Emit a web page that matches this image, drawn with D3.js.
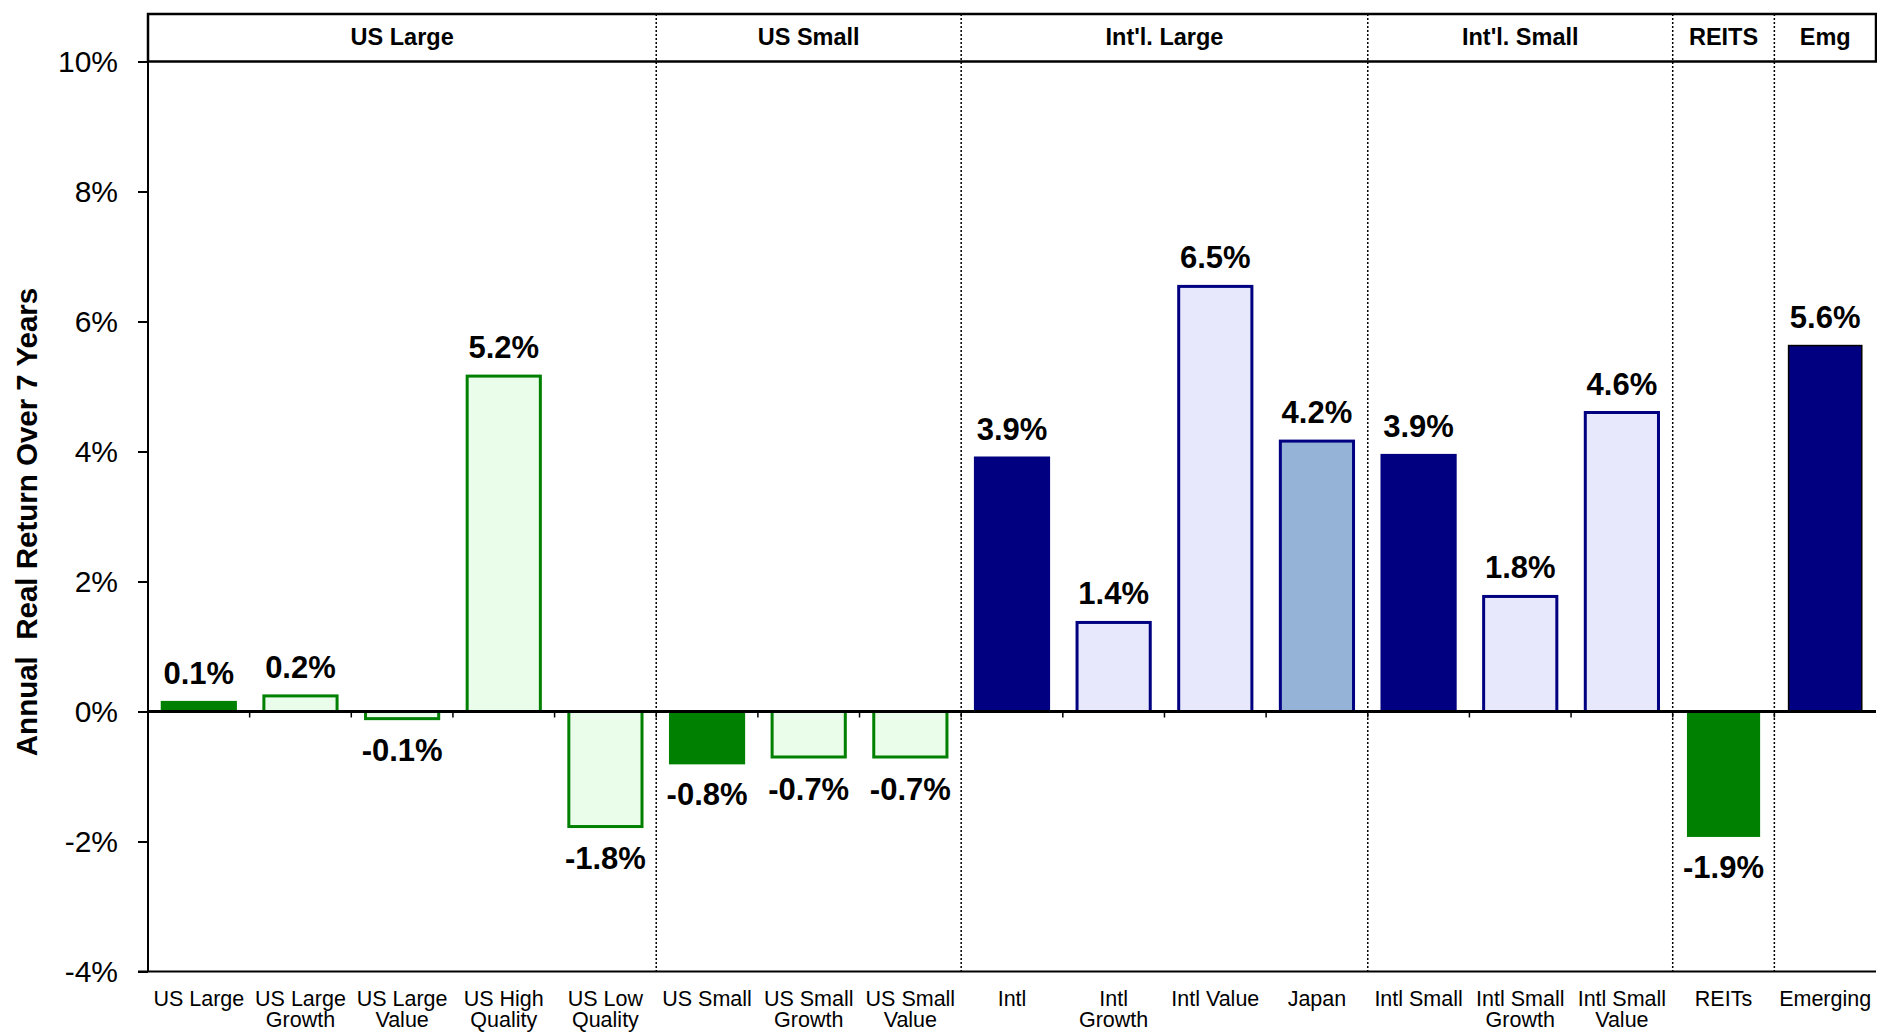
<!DOCTYPE html>
<html>
<head>
<meta charset="utf-8">
<script src="https://cdn.jsdelivr.net/npm/d3@7"></script>
<style>
  html, body { margin: 0; padding: 0; background: #fff; }
  svg { display: block; font-family: "Liberation Sans", Arial, Helvetica, sans-serif; }
</style>
</head>
<body>
<svg id="chart" width="1877" height="1032"></svg>
<script>
// ---- data ----
const categories = [
  "US Large", "US Large Growth", "US Large Value", "US High Quality", "US Low Quality",
  "US Small", "US Small Growth", "US Small Value",
  "Intl", "Intl Growth", "Intl Value", "Japan",
  "Intl Small", "Intl Small Growth", "Intl Small Value",
  "REITs", "Emerging"
];
const categoryLines = [
  ["US Large"], ["US Large", "Growth"], ["US Large", "Value"], ["US High", "Quality"], ["US Low", "Quality"],
  ["US Small"], ["US Small", "Growth"], ["US Small", "Value"],
  ["Intl"], ["Intl", "Growth"], ["Intl Value"], ["Japan"],
  ["Intl Small"], ["Intl Small", "Growth"], ["Intl Small", "Value"],
  ["REITs"], ["Emerging"]
];
// annual real return over 7 years, in percent
const realReturns = [
  0.14, 0.24, -0.11, 5.16, -1.77,
  -0.79, -0.70, -0.70,
  3.90, 1.37, 6.54, 4.16,
  3.94, 1.77, 4.60,
  -1.93, 5.63
];
const groupNames = ["US Large", "US Small", "Int'l. Large", "Int'l. Small", "REITS", "Emg"];
const groupSizes = [5, 3, 4, 3, 1, 1];
const yTicks = [-4, -2, 0, 2, 4, 6, 8, 10];

// ---- look ----
const C = {
  green: "#008000", paleGreen: "#eafdea",
  navy: "#000080", lavender: "#e8e8fc", steel: "#95b3d7", black: "#000"
};
const looks = {
  solidGreen:   { fill: C.green,     stroke: C.green, sw: 3 },
  openGreen:    { fill: C.paleGreen, stroke: C.green, sw: 3 },
  bareGreen:    { fill: C.green,     stroke: "none",  sw: 0 },
  solidNavy:    { fill: C.navy,      stroke: C.navy,  sw: 3 },
  openNavy:     { fill: C.lavender,  stroke: C.navy,  sw: 3 },
  steelNavy:    { fill: C.steel,     stroke: C.navy,  sw: 3 },
  edgedNavy:    { fill: C.navy,      stroke: C.black, sw: 1.5 }
};
const lookOf = {
  "US Large": "solidGreen", "US Large Growth": "openGreen", "US Large Value": "openGreen",
  "US High Quality": "openGreen", "US Low Quality": "openGreen",
  "US Small": "solidGreen", "US Small Growth": "openGreen", "US Small Value": "openGreen",
  "Intl": "solidNavy", "Intl Growth": "openNavy", "Intl Value": "openNavy", "Japan": "steelNavy",
  "Intl Small": "solidNavy", "Intl Small Growth": "openNavy", "Intl Small Value": "openNavy",
  "REITs": "bareGreen", "Emerging": "edgedNavy"
};

const rows = categories.map((c, i) => ({ name: c, lines: categoryLines[i], value: realReturns[i] }));

// ---- layout ----
const plotLeft = 148, plotRight = 1876, stripTop = 14;
const svg = d3.select("#chart");

const x = d3.scaleBand()
  .domain(categories)
  .range([plotLeft, plotRight])
  .paddingInner(0.28)
  .paddingOuter(0.14);

const y = d3.scaleLinear().domain([-4, 10]).range([971.5, 61.5]);

const fmtLocale = d3.formatLocale({ decimal: ".", thousands: ",", grouping: [3], currency: ["$", ""], minus: "-" });
const fmtTick = v => fmtLocale.format("d")(v) + "%";
const fmtVal = v => fmtLocale.format(".1f")(v) + "%";

// header strip above the plot
svg.append("rect")
  .attr("x", plotLeft).attr("y", stripTop)
  .attr("width", plotRight - plotLeft).attr("height", y(10) - stripTop)
  .attr("fill", "none").attr("stroke", "#000").attr("stroke-width", 2.5);

// group spans
let start = 0;
const groups = groupNames.map((g, i) => {
  const s = start; start += groupSizes[i];
  return { name: g, first: s, last: start - 1 };
});
const step = x.step();
const edgeX = idx => x(categories[0]) - x.paddingOuter() * step + idx * step;

// dotted separators between groups
svg.append("g").selectAll("line")
  .data(groups.slice(1))
  .join("line")
  .attr("x1", d => edgeX(d.first)).attr("x2", d => edgeX(d.first))
  .attr("y1", stripTop).attr("y2", y(-4))
  .attr("stroke", "#000").attr("stroke-width", 1.5)
  .attr("stroke-dasharray", "2,2");

// group titles
svg.append("g").selectAll("text")
  .data(groups)
  .join("text")
  .attr("x", d => (edgeX(d.first) + edgeX(d.last + 1)) / 2)
  .attr("y", 45)
  .attr("text-anchor", "middle")
  .attr("font-weight", "bold")
  .attr("font-size", 23.5)
  .text(d => d.name);

// y axis
const yAxis = svg.append("g")
  .attr("transform", `translate(${plotLeft},0)`)
  .call(d3.axisLeft(y).tickValues(yTicks).tickFormat(fmtTick).tickSize(10).tickSizeOuter(0).tickPadding(20));
yAxis.select(".domain").remove();
yAxis.attr("font-family", null).attr("font-size", null);
yAxis.selectAll(".tick line").attr("stroke", "#000").attr("stroke-width", 2);
yAxis.selectAll(".tick text").attr("font-size", 30).attr("fill", "#000");

svg.append("line")
  .attr("x1", plotLeft).attr("x2", plotLeft).attr("y1", stripTop).attr("y2", y(-4))
  .attr("stroke", "#000").attr("stroke-width", 2);

// bottom axis with category names
const xAxis = svg.append("g")
  .attr("transform", `translate(0,${y(-4)})`)
  .call(d3.axisBottom(x).tickSize(0).tickSizeOuter(0).tickFormat(""));
xAxis.select(".domain").attr("stroke", "#000").attr("stroke-width", 2)
  .attr("d", `M${plotLeft - 10},0H${plotRight}`);

svg.append("g").selectAll("text")
  .data(rows)
  .join("text")
  .attr("x", d => x(d.name) + x.bandwidth() / 2)
  .attr("y", y(-4) + 34)
  .attr("text-anchor", "middle")
  .attr("font-size", 21.5)
  .selectAll("tspan")
  .data(d => d.lines)
  .join("tspan")
  .attr("x", function () { return d3.select(this.parentNode).attr("x"); })
  .attr("dy", (d, i) => i === 0 ? 0 : 21)
  .text(d => d);

// bars
svg.append("g").selectAll("rect")
  .data(rows)
  .join("rect")
  .attr("x", d => x(d.name))
  .attr("width", x.bandwidth())
  .attr("y", d => y(Math.max(0, d.value)))
  .attr("height", d => Math.abs(y(d.value) - y(0)))
  .attr("fill", d => looks[lookOf[d.name]].fill)
  .attr("stroke", d => looks[lookOf[d.name]].stroke)
  .attr("stroke-width", d => looks[lookOf[d.name]].sw);

// zero line with category ticks
svg.append("line")
  .attr("x1", plotLeft).attr("x2", plotRight).attr("y1", y(0)).attr("y2", y(0))
  .attr("stroke", "#000").attr("stroke-width", 3.2);
svg.append("g").selectAll("line")
  .data(d3.range(1, categories.length))
  .join("line")
  .attr("x1", d => edgeX(d)).attr("x2", d => edgeX(d))
  .attr("y1", y(0)).attr("y2", y(0) + 6)
  .attr("stroke", "#000").attr("stroke-width", 1.5);

// value labels
svg.append("g").selectAll("text")
  .data(rows)
  .join("text")
  .attr("x", d => x(d.name) + x.bandwidth() / 2)
  .attr("y", d => {
    const half = looks[lookOf[d.name]].sw / 2;
    return d.value >= 0 ? y(d.value) - half - 16.5 : y(d.value) + half + 41;
  })
  .attr("text-anchor", "middle")
  .attr("font-weight", "bold")
  .attr("font-size", 31)
  .text(d => fmtVal(d.value));

// y axis title
svg.append("text")
  .attr("transform", "translate(37,522) rotate(-90)")
  .attr("text-anchor", "middle")
  .attr("font-weight", "bold")
  .attr("font-size", 29.5)
  .style("white-space", "pre")
  .text("Annual  Real Return Over 7 Years");
</script>
</body>
</html>
